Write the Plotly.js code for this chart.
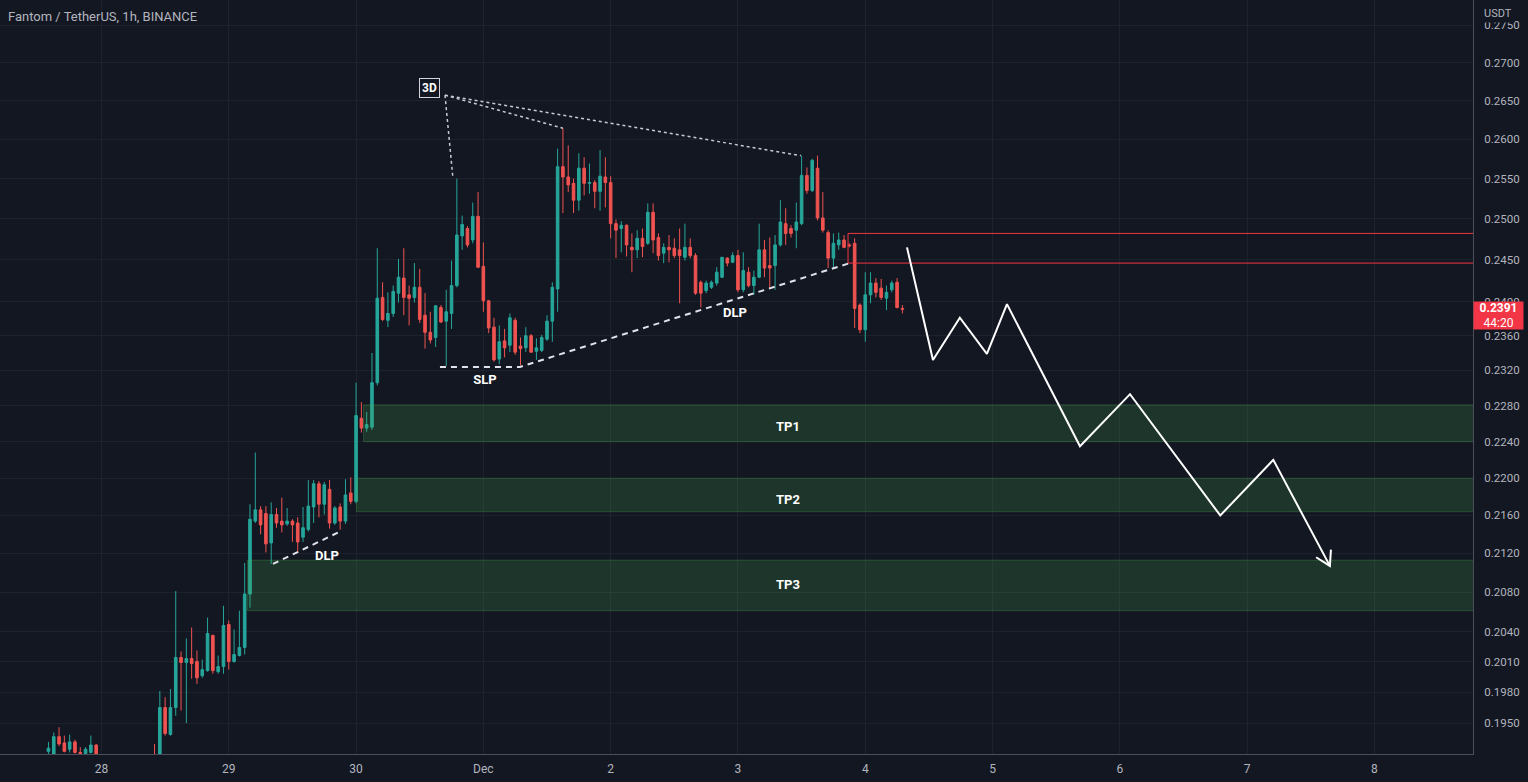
<!DOCTYPE html>
<html>
<head>
<meta charset="utf-8">
<script src="https://cdn.plot.ly/plotly-3.0.1.min.js"></script>
<style>
html,body{margin:0;padding:0;background:#131722;overflow:hidden;}
#chart{width:1528px;height:782px;}
</style>
</head>
<body>
<div id="chart"></div>
<script>
// ---------- DATA ----------
const candleStart = '2021-11-27T14:00:00Z'; // first hourly candle

const openP = [
0.1923,0.1920,0.1937,0.1931,0.1925,0.1932,0.1922,0.1921,0.1922,0.1929,
0.1920,0.1903,0.1908,0.1901,0.1892,0.1897,0.1909,0.1904,0.1911,0.1907,
0.1917,0.1912,0.1965,0.1939,0.1965,0.2014,0.2009,0.2013,0.2010,0.1996,
0.2001,0.2036,0.2000,0.2005,0.2047,0.2010,0.2016,0.2024,0.2078,0.2154,
0.2166,0.2162,0.2131,0.2161,0.2154,0.2151,0.2154,0.2152,0.2137,0.2145,
0.2169,0.2194,0.2172,0.2188,0.2152,0.2169,0.2154,0.2184,0.2175,0.2266,
0.2255,0.2256,0.2306,0.2405,0.2378,0.2386,0.2410,0.2428,0.2408,0.2405,
0.2417,0.2384,0.2364,0.2358,0.2393,0.2377,0.2386,0.2419,0.2479,0.2488,
0.2474,0.2503,0.2442,0.2401,0.2370,0.2333,0.2354,0.2349,0.2378,0.2348,
0.2346,0.2360,0.2342,0.2343,0.2356,0.2377,0.2415,0.2565,0.2552,0.2544,
0.2523,0.2563,0.2544,0.2545,0.2534,0.2552,0.2545,0.2494,0.2488,0.2492,
0.2465,0.2462,0.2476,0.2470,0.2508,0.2477,0.2458,0.2465,0.2464,0.2462,
0.2453,0.2465,0.2455,0.2423,0.2413,0.2417,0.2422,0.2429,0.2452,0.2447,
0.2455,0.2414,0.2435,0.2419,0.2429,0.2462,0.2443,0.2443,0.2468,0.2494,
0.2488,0.2486,0.2494,0.2554,0.2535,0.2563,0.2501,0.2483,0.2452,0.2468,
0.2474,0.2468,0.2470,0.2396,0.2367,0.2408,0.2422,0.2416,0.2404,0.2414,
0.2423,0.2392
];
const highP = [
0.1932,0.1941,0.1946,0.1938,0.1939,0.1934,0.1927,0.1927,0.1938,0.1930,
0.1919,0.1911,0.1914,0.1906,0.1900,0.1912,0.1915,0.1913,0.1916,0.1919,
0.1930,0.1981,0.1975,0.1983,0.2081,0.2020,0.2033,0.2044,0.2021,0.2012,
0.2054,0.2037,0.2016,0.2066,0.2051,0.2042,0.2061,0.2110,0.2172,0.2228,
0.2170,0.2170,0.2174,0.2168,0.2179,0.2168,0.2156,0.2158,0.2169,0.2198,
0.2198,0.2197,0.2196,0.2198,0.2170,0.2173,0.2199,0.2201,0.2306,0.2284,
0.2273,0.2340,0.2464,0.2423,0.2411,0.2419,0.2451,0.2464,0.2419,0.2446,
0.2439,0.2410,0.2388,0.2396,0.2396,0.2414,0.2449,0.2550,0.2504,0.2491,
0.2520,0.2533,0.2471,0.2402,0.2381,0.2372,0.2368,0.2386,0.2381,0.2358,
0.2370,0.2362,0.2357,0.2361,0.2384,0.2423,0.2588,0.2614,0.2592,0.2550,
0.2582,0.2577,0.2569,0.2548,0.2586,0.2577,0.2553,0.2499,0.2497,0.2493,
0.2482,0.2486,0.2488,0.2519,0.2519,0.2482,0.2470,0.2480,0.2476,0.2488,
0.2494,0.2476,0.2458,0.2425,0.2425,0.2425,0.2441,0.2453,0.2453,0.2459,
0.2462,0.2459,0.2441,0.2437,0.2494,0.2474,0.2477,0.2480,0.2523,0.2513,
0.2492,0.2520,0.2579,0.2564,0.2575,0.2579,0.2533,0.2486,0.2482,0.2483,
0.2480,0.2470,0.2476,0.2398,0.2435,0.2435,0.2428,0.2427,0.2419,0.2425,
0.2428,0.2396
];
const lowP = [
0.1920,0.1918,0.1928,0.1922,0.1922,0.1921,0.1918,0.1919,0.1921,0.1918,
0.1898,0.1895,0.1899,0.1888,0.1884,0.1893,0.1901,0.1898,0.1903,0.1899,
0.1911,0.1910,0.1938,0.1938,0.1957,0.1962,0.1950,0.1993,0.1988,0.1994,
0.2000,0.1998,0.1998,0.1998,0.2002,0.2009,0.2015,0.2017,0.2064,0.2152,
0.2140,0.2121,0.2109,0.2147,0.2142,0.2149,0.2132,0.2121,0.2132,0.2143,
0.2152,0.2158,0.2161,0.2146,0.2150,0.2145,0.2151,0.2172,0.2173,0.2250,
0.2251,0.2253,0.2303,0.2377,0.2370,0.2382,0.2399,0.2384,0.2372,0.2399,
0.2375,0.2345,0.2351,0.2347,0.2375,0.2325,0.2368,0.2417,0.2462,0.2465,
0.2470,0.2440,0.2388,0.2363,0.2330,0.2327,0.2335,0.2341,0.2338,0.2326,
0.2341,0.2340,0.2332,0.2341,0.2354,0.2353,0.2388,0.2507,0.2533,0.2507,
0.2510,0.2529,0.2531,0.2513,0.2510,0.2514,0.2476,0.2452,0.2459,0.2454,
0.2435,0.2452,0.2453,0.2468,0.2458,0.2449,0.2446,0.2447,0.2452,0.2398,
0.2449,0.2452,0.2408,0.2393,0.2410,0.2415,0.2419,0.2428,0.2442,0.2446,
0.2411,0.2411,0.2417,0.2408,0.2428,0.2429,0.2416,0.2414,0.2466,0.2468,
0.2477,0.2464,0.2492,0.2531,0.2533,0.2498,0.2483,0.2440,0.2440,0.2462,
0.2464,0.2465,0.2369,0.2363,0.2353,0.2398,0.2405,0.2402,0.2390,0.2411,
0.2392,0.2386
];
const closeP = [
0.1926,0.1937,0.1930,0.1923,0.1932,0.1922,0.1921,0.1925,0.1929,0.1920,
0.1903,0.1908,0.1901,0.1892,0.1897,0.1909,0.1904,0.1911,0.1907,0.1917,
0.1914,0.1965,0.1940,0.1965,0.2014,0.2009,0.2013,0.2008,0.1994,0.2002,
0.2038,0.2001,0.2005,0.2046,0.2010,0.2017,0.2024,0.2078,0.2156,0.2166,
0.2150,0.2130,0.2161,0.2152,0.2150,0.2154,0.2150,0.2132,0.2147,0.2170,
0.2194,0.2172,0.2193,0.2152,0.2168,0.2154,0.2182,0.2175,0.2269,0.2255,
0.2259,0.2306,0.2404,0.2379,0.2386,0.2412,0.2429,0.2405,0.2404,0.2417,
0.2379,0.2364,0.2355,0.2395,0.2376,0.2388,0.2419,0.2480,0.2493,0.2468,
0.2503,0.2441,0.2401,0.2369,0.2332,0.2353,0.2346,0.2381,0.2341,0.2345,
0.2360,0.2341,0.2346,0.2358,0.2377,0.2417,0.2565,0.2552,0.2542,0.2523,
0.2563,0.2544,0.2545,0.2534,0.2553,0.2545,0.2494,0.2486,0.2492,0.2468,
0.2462,0.2476,0.2466,0.2508,0.2474,0.2455,0.2465,0.2462,0.2455,0.2455,
0.2465,0.2455,0.2410,0.2410,0.2422,0.2423,0.2435,0.2453,0.2446,0.2455,
0.2414,0.2437,0.2419,0.2429,0.2462,0.2440,0.2440,0.2468,0.2496,0.2482,
0.2482,0.2496,0.2554,0.2535,0.2573,0.2501,0.2486,0.2452,0.2470,0.2474,
0.2465,0.2467,0.2392,0.2367,0.2408,0.2422,0.2411,0.2405,0.2411,0.2422,
0.2393,0.2391
];

const dayTicks  = ['2021-11-28','2021-11-29','2021-11-30','2021-12-01','2021-12-02','2021-12-03','2021-12-04','2021-12-05','2021-12-06','2021-12-07','2021-12-08'];
const dayLabels = ['28','29','30','Dec','2','3','4','5','6','7','8'];
const priceTicks = [0.2750,0.2700,0.2650,0.2600,0.2550,0.2500,0.2450,0.2400,0.2360,0.2320,0.2280,0.2240,0.2200,0.2160,0.2120,0.2080,0.2040,0.2010,0.1980,0.1950];

// target zones
const tpNames  = ['TP1','TP2','TP3'];
const tpStart  = ['2021-11-30 01:24','2021-11-30 00:04','2021-11-29 03:31'];
const tpLow    = [0.2240,0.2164,0.2061];
const tpHigh   = [0.2281,0.2200,0.2113];
const tpLabelTime = '2021-12-03 09:26';
const tpLabelPrice = [0.2255,0.2176,0.2086];
const zoneEnd = '2021-12-10 00:00';

// red resistance box
const redBoxStart = '2021-12-03 20:45';
const redBoxTop = 0.2482;
const redBoxBottom = 0.2446;

// dashed trend lines
const slpTimes  = ['2021-11-30 15:49','2021-12-01 06:54','2021-12-03 21:07'];
const slpPrices = [0.2324,0.2324,0.2446];
const dlp2Times  = ['2021-11-29 08:20','2021-11-29 21:00'];
const dlp2Prices = [0.2109,0.2143];

// dotted "3D" lines
const apexTime = '2021-11-30 16:46';
const apexPrice = 0.2657;
const peakTimes  = ['2021-11-30 18:16','2021-12-01 15:00','2021-12-03 11:52'];
const peakPrices = [0.2550,0.2614,0.2579];
const label3DTime = '2021-11-30 13:56';
const label3DPrice = 0.2666;

// text labels
const labelText   = ['SLP','DLP','DLP'];
const labelTimes  = ['2021-12-01 00:18','2021-12-02 23:26','2021-11-29 18:30'];
const labelPrices = [0.2308,0.2386,0.2117];

// projected path
const projTimes  = ['2021-12-04 07:52','2021-12-04 12:46','2021-12-04 17:50','2021-12-04 22:56','2021-12-05 02:43','2021-12-05 16:29','2021-12-06 01:55','2021-12-06 18:56','2021-12-07 04:56','2021-12-07 15:36'];
const projPrices = [0.2465,0.2332,0.2381,0.2339,0.2397,0.2235,0.2293,0.2160,0.2220,0.2107];
const arrowTimes  = ['2021-12-07 15:48','2021-12-07 15:36','2021-12-07 13:00'];
const arrowPrices = [0.2124,0.2107,0.2116];

const lastPrice = 0.2391;
const countdown = '44:20';

// ---------- BUILD ----------
function hourLabel(i){
  const d = new Date(Date.parse(candleStart) + i*3600000);
  return d.toISOString().slice(0,16).replace('T',' ');
}
const times = openP.map((_,i)=>hourLabel(i));

const traces = [];

traces.push({
  type:'candlestick', x:times, open:openP, high:highP, low:lowP, close:closeP,
  increasing:{line:{color:'#26a69a',width:1},fillcolor:'#26a69a'},
  decreasing:{line:{color:'#ef5350',width:1},fillcolor:'#ef5350'},
  hoverinfo:'skip', showlegend:false
});

// zones
for(let i=0;i<tpNames.length;i++){
  traces.push({
    type:'scatter', mode:'lines',
    x:[tpStart[i],zoneEnd,zoneEnd,tpStart[i],tpStart[i]],
    y:[tpLow[i],tpLow[i],tpHigh[i],tpHigh[i],tpLow[i]],
    fill:'toself', fillcolor:'rgba(76,175,80,0.20)',
    line:{color:'rgba(76,175,80,0.28)',width:1},
    hoverinfo:'skip', showlegend:false
  });
}
traces.push({
  type:'scatter', mode:'text', x:tpNames.map(()=>tpLabelTime), y:tpLabelPrice,
  text:tpNames.map(t=>'<b>'+t+'</b>'), textfont:{color:'#ffffff',size:13,family:'Roboto, sans-serif'},
  hoverinfo:'skip', showlegend:false
});

// red box
traces.push({
  type:'scatter', mode:'lines',
  x:[zoneEnd,redBoxStart,redBoxStart,zoneEnd],
  y:[redBoxTop,redBoxTop,redBoxBottom,redBoxBottom],
  line:{color:'#f23645',width:1}, hoverinfo:'skip', showlegend:false
});

// dashed lines
traces.push({type:'scatter',mode:'lines',x:slpTimes,y:slpPrices,line:{color:'#e0e3eb',width:2,dash:'6px,5px'},hoverinfo:'skip',showlegend:false});
traces.push({type:'scatter',mode:'lines',x:dlp2Times,y:dlp2Prices,line:{color:'#e0e3eb',width:2,dash:'6px,5px'},hoverinfo:'skip',showlegend:false});

// dotted lines from 3D
const dx=[], dy=[];
for(let i=0;i<peakTimes.length;i++){
  dx.push(apexTime,peakTimes[i],null); dy.push(apexPrice,peakPrices[i],null);
}
traces.push({type:'scatter',mode:'lines',x:dx,y:dy,line:{color:'#c8cad2',width:1.5,dash:'dot'},hoverinfo:'skip',showlegend:false});

// labels
traces.push({
  type:'scatter', mode:'text', x:labelTimes, y:labelPrices,
  text:labelText.map(t=>'<b>'+t+'</b>'), textfont:{color:'#ffffff',size:13,family:'Roboto, sans-serif'},
  hoverinfo:'skip', showlegend:false
});

// projection
traces.push({type:'scatter',mode:'lines',x:projTimes,y:projPrices,line:{color:'#ffffff',width:2},hoverinfo:'skip',showlegend:false});
traces.push({type:'scatter',mode:'lines',x:arrowTimes,y:arrowPrices,line:{color:'#ffffff',width:2},hoverinfo:'skip',showlegend:false});

const layout = {
  width:1528, height:782,
  paper_bgcolor:'#131722', plot_bgcolor:'#131722',
  margin:{l:0,r:55,t:0,b:28,pad:0},
  showlegend:false, hovermode:false, dragmode:false,
  font:{family:'Roboto, sans-serif',color:'#b2b5be',size:12},
  title:{text:'Fantom / TetherUS, 1h, BINANCE', x:0.0052, xanchor:'left', y:0.979, yanchor:'middle',
         font:{size:13,color:'#b2b5be',family:'Roboto, sans-serif'}},
  xaxis:{
    type:'date', range:['2021-11-27 04:52','2021-12-08 18:35'],
    rangeslider:{visible:false},
    tickmode:'array', tickvals:dayTicks, ticktext:dayLabels,
    showgrid:true, gridcolor:'#1e222d', gridwidth:1,
    showline:true, linecolor:'#4c4f5a', linewidth:1, mirror:false,
    zeroline:false, ticks:'', tickfont:{size:12,color:'#b2b5be'}, ticklabelstandoff:4,
    fixedrange:true
  },
  yaxis:{
    type:'log', side:'right',
    range:[Math.log10(0.19205),Math.log10(0.27845)],
    tickmode:'array', tickvals:priceTicks, ticktext:priceTicks.map(v=>v.toFixed(4)),
    showgrid:true, gridcolor:'#1e222d', gridwidth:1,
    showline:true, linecolor:'#4c4f5a', linewidth:1,
    zeroline:false, ticks:'', tickfont:{size:11.5,color:'#b2b5be'}, ticklabelstandoff:8,
    fixedrange:true
  },
  annotations:[
    {xref:'x',yref:'y',x:label3DTime,y:Math.log10(label3DPrice),text:'<b>3D</b>',showarrow:false,
     font:{color:'#ffffff',size:12,family:'Roboto, sans-serif'},bgcolor:'#131722',bordercolor:'#d1d4dc',borderwidth:1,borderpad:2},
    {xref:'paper',yref:'paper',x:1,xshift:8,xanchor:'left',y:1,yshift:-4,yanchor:'top',text:'USDT',showarrow:false,
     font:{color:'#b2b5be',size:11},bgcolor:'#131722',borderpad:2},
    {xref:'paper',yref:'y',x:1,xanchor:'left',y:Math.log10(lastPrice),yanchor:'top',yshift:8,
     text:'<b>'+lastPrice.toFixed(4)+'</b><br>'+countdown,showarrow:false,align:'center',
     font:{color:'#ffffff',size:12},bgcolor:'#f23645',width:47,height:25,borderpad:1}
  ]
};

Plotly.newPlot('chart', traces, layout, {displayModeBar:false, staticPlot:true});
</script>
</body>
</html>
